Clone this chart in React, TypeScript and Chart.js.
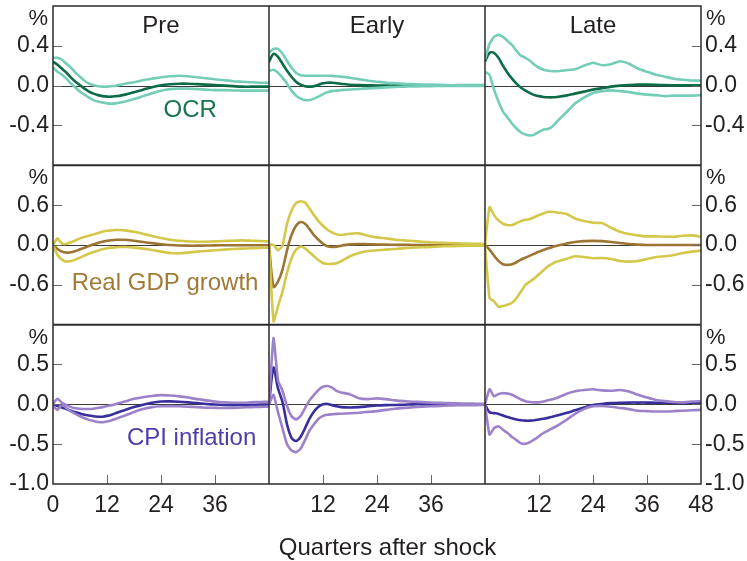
import React, { useEffect, useRef } from 'react';
import { Chart, registerables } from 'chart.js';

Chart.register(...registerables);

// Quarters after shock at which values were read
const QUARTERS = [0, 1, 2, 3, 4, 5, 6, 7, 8, 9, 10, 11, 12, 13, 14, 15, 16, 18, 20, 22, 24, 26, 28, 30, 32, 34, 36, 38, 40, 42, 44, 46, 48];

const PERIODS = ['Pre', 'Early', 'Late'];
const VARIABLES = ['OCR', 'Real GDP growth', 'CPI inflation'];
const X_TICKS = [0, 12, 24, 36, 48];
const Y_LIMITS = [0.8, 1.2, 1.0];
const Y_STEPS = [0.4, 0.6, 0.5];

// OCR
const ocrPreMean = [0.24, 0.21, 0.17, 0.13, 0.08, 0.04, 0.005, -0.03, -0.06, -0.08, -0.095, -0.105, -0.11, -0.11, -0.105, -0.1, -0.09, -0.065, -0.04, -0.015, 0.005, 0.015, 0.02, 0.02, 0.015, 0.01, 0.005, 0, -0.005, -0.01, -0.01, -0.01, -0.01];
const ocrPreUpper = [0.28, 0.28, 0.26, 0.22, 0.18, 0.13, 0.09, 0.05, 0.02, 0.005, -0.005, -0.01, -0.01, -0.005, 0, 0.01, 0.02, 0.035, 0.055, 0.07, 0.085, 0.095, 0.1, 0.095, 0.085, 0.075, 0.065, 0.055, 0.045, 0.04, 0.035, 0.03, 0.03];
const ocrPreLower = [0.18, 0.14, 0.11, 0.07, 0.02, -0.02, -0.06, -0.09, -0.12, -0.145, -0.16, -0.17, -0.178, -0.18, -0.178, -0.17, -0.16, -0.135, -0.105, -0.075, -0.05, -0.035, -0.03, -0.03, -0.035, -0.04, -0.045, -0.045, -0.048, -0.05, -0.05, -0.05, -0.05];
const ocrEarlyMean = [0.24, 0.32, 0.29, 0.22, 0.15, 0.09, 0.04, 0.01, -0.005, -0.01, -0.005, 0.01, 0.025, 0.03, 0.03, 0.025, 0.02, 0.01, 0.005, 0.003, 0.002, 0.001, 0, 0, 0, 0, 0, 0, 0, 0, 0, 0, 0];
const ocrEarlyUpper = [0.33, 0.37, 0.37, 0.32, 0.25, 0.18, 0.13, 0.105, 0.1, 0.1, 0.1, 0.1, 0.1, 0.1, 0.098, 0.095, 0.09, 0.08, 0.065, 0.05, 0.04, 0.03, 0.025, 0.02, 0.015, 0.012, 0.01, 0.008, 0.005, 0.005, 0.005, 0.005, 0.005];
const ocrEarlyLower = [0.15, 0.16, 0.13, 0.08, 0.02, -0.05, -0.1, -0.13, -0.145, -0.145, -0.13, -0.11, -0.085, -0.065, -0.055, -0.05, -0.045, -0.038, -0.033, -0.027, -0.022, -0.017, -0.013, -0.01, -0.008, -0.006, -0.005, -0.003, -0.003, -0.003, -0.003, -0.003, -0.003];
const ocrLateMean = [0.24, 0.33, 0.33, 0.28, 0.2, 0.13, 0.07, 0.02, -0.02, -0.05, -0.075, -0.095, -0.105, -0.113, -0.117, -0.117, -0.113, -0.1, -0.08, -0.06, -0.04, -0.025, -0.01, 0, 0.007, 0.01, 0.01, 0.008, 0.005, 0.003, 0.003, 0.003, 0.003];
const ocrLateUpper = [0.26, 0.42, 0.49, 0.51, 0.49, 0.45, 0.41, 0.35, 0.3, 0.28, 0.25, 0.21, 0.18, 0.16, 0.15, 0.145, 0.145, 0.155, 0.165, 0.2, 0.23, 0.205, 0.215, 0.245, 0.22, 0.17, 0.14, 0.11, 0.09, 0.07, 0.06, 0.052, 0.05];
const ocrLateLower = [0.14, 0.11, -0.04, -0.16, -0.26, -0.32, -0.38, -0.43, -0.47, -0.49, -0.5, -0.49, -0.465, -0.44, -0.435, -0.41, -0.36, -0.27, -0.18, -0.12, -0.073, -0.055, -0.047, -0.055, -0.065, -0.08, -0.09, -0.095, -0.105, -0.1, -0.1, -0.1, -0.095];

// Real GDP growth
const gdpPreMean = [0, -0.06, -0.1, -0.115, -0.11, -0.09, -0.065, -0.04, -0.015, 0.01, 0.03, 0.05, 0.063, 0.072, 0.078, 0.08, 0.078, 0.065, 0.045, 0.028, 0.012, 0, -0.008, -0.01, -0.01, -0.008, -0.005, -0.003, -0.003, -0.003, -0.003, -0.003, -0.003];
const gdpPreUpper = [0, 0.1, 0.02, 0.02, 0.04, 0.07, 0.1, 0.12, 0.14, 0.16, 0.18, 0.2, 0.215, 0.22, 0.225, 0.225, 0.22, 0.2, 0.17, 0.135, 0.105, 0.08, 0.065, 0.055, 0.05, 0.05, 0.055, 0.06, 0.065, 0.07, 0.065, 0.06, 0.055];
const gdpPreLower = [-0.01, -0.15, -0.22, -0.25, -0.24, -0.22, -0.19, -0.16, -0.13, -0.105, -0.085, -0.065, -0.05, -0.04, -0.035, -0.03, -0.03, -0.04, -0.055, -0.075, -0.1, -0.12, -0.125, -0.115, -0.1, -0.09, -0.08, -0.07, -0.06, -0.055, -0.05, -0.045, -0.04];
const gdpEarlyMean = [0, -0.63, -0.55, -0.37, -0.08, 0.15, 0.29, 0.345, 0.32, 0.24, 0.15, 0.08, 0.02, -0.02, -0.03, -0.025, -0.01, 0.01, 0.015, 0.012, 0.008, 0.005, 0.003, 0.002, 0.001, 0, 0, 0, 0, 0, 0, 0, 0];
const gdpEarlyUpper = [0.01, 0, -0.08, -0.01, 0.32, 0.52, 0.63, 0.66, 0.64, 0.55, 0.45, 0.36, 0.29, 0.23, 0.19, 0.16, 0.15, 0.17, 0.175, 0.14, 0.115, 0.1, 0.08, 0.07, 0.06, 0.05, 0.04, 0.035, 0.03, 0.025, 0.02, 0.018, 0.015];
const gdpEarlyLower = [0, -1.15, -0.92, -0.7, -0.42, -0.2, -0.07, -0.025, -0.05, -0.11, -0.17, -0.23, -0.27, -0.285, -0.285, -0.275, -0.245, -0.17, -0.12, -0.09, -0.08, -0.07, -0.06, -0.05, -0.04, -0.035, -0.03, -0.022, -0.018, -0.015, -0.012, -0.01, -0.008];
const gdpLateMean = [0, -0.07, -0.16, -0.24, -0.29, -0.3, -0.29, -0.26, -0.22, -0.19, -0.16, -0.13, -0.1, -0.075, -0.05, -0.03, -0.01, 0.02, 0.045, 0.058, 0.062, 0.058, 0.045, 0.03, 0.015, 0.005, 0, 0, 0, 0, 0, 0, 0];
const gdpLateUpper = [0, 0.57, 0.45, 0.37, 0.32, 0.3, 0.3, 0.33, 0.36, 0.38, 0.39, 0.42, 0.45, 0.475, 0.5, 0.5, 0.49, 0.47, 0.4, 0.36, 0.335, 0.33, 0.26, 0.2, 0.165, 0.145, 0.13, 0.13, 0.125, 0.125, 0.14, 0.145, 0.125];
const gdpLateLower = [0, -0.8, -0.85, -0.93, -0.92, -0.9, -0.87, -0.8, -0.7, -0.6, -0.55, -0.5, -0.44, -0.38, -0.32, -0.28, -0.25, -0.21, -0.17, -0.18, -0.2, -0.195, -0.21, -0.24, -0.25, -0.24, -0.21, -0.18, -0.17, -0.15, -0.12, -0.1, -0.085];

// CPI inflation
const cpiPreMean = [0, -0.02, -0.04, -0.06, -0.08, -0.1, -0.115, -0.13, -0.14, -0.15, -0.155, -0.155, -0.145, -0.13, -0.11, -0.09, -0.07, -0.035, -0.005, 0.02, 0.035, 0.037, 0.033, 0.025, 0.015, 0.005, -0.003, -0.008, -0.01, -0.008, -0.006, -0.004, -0.003];
const cpiPreUpper = [0.01, 0.07, 0.02, -0.01, -0.035, -0.05, -0.055, -0.058, -0.058, -0.055, -0.045, -0.035, -0.022, -0.01, 0.005, 0.02, 0.035, 0.07, 0.09, 0.105, 0.115, 0.11, 0.1, 0.085, 0.065, 0.05, 0.035, 0.025, 0.02, 0.02, 0.025, 0.03, 0.033];
const cpiPreLower = [-0.02, -0.07, 0, -0.05, -0.09, -0.12, -0.15, -0.175, -0.195, -0.21, -0.222, -0.225, -0.215, -0.2, -0.18, -0.16, -0.14, -0.095, -0.06, -0.035, -0.025, -0.022, -0.025, -0.03, -0.035, -0.042, -0.045, -0.046, -0.045, -0.04, -0.035, -0.032, -0.03];
const cpiEarlyMean = [0, 0.46, 0.2, 0.03, -0.25, -0.42, -0.46, -0.41, -0.3, -0.18, -0.09, -0.03, 0, 0.005, -0.01, -0.025, -0.035, -0.04, -0.035, -0.025, -0.015, -0.01, -0.008, -0.005, 0, 0, 0, 0, 0, 0, 0, 0, 0];
const cpiEarlyUpper = [0.01, 0.83, 0.3, 0.17, -0.02, -0.15, -0.19, -0.15, -0.05, 0.05, 0.12, 0.18, 0.22, 0.23, 0.21, 0.17, 0.15, 0.125, 0.075, 0.065, 0.075, 0.065, 0.05, 0.04, 0.033, 0.028, 0.022, 0.018, 0.015, 0.012, 0.01, 0.008, 0.008];
const cpiEarlyLower = [0, 0.12, -0.1, -0.3, -0.5, -0.58, -0.6, -0.56, -0.45, -0.33, -0.25, -0.18, -0.145, -0.13, -0.125, -0.12, -0.118, -0.112, -0.105, -0.095, -0.085, -0.07, -0.055, -0.045, -0.037, -0.03, -0.025, -0.02, -0.015, -0.012, -0.01, -0.01, -0.008];
const cpiLateMean = [0, -0.1, -0.11, -0.12, -0.14, -0.16, -0.175, -0.19, -0.2, -0.205, -0.205, -0.2, -0.19, -0.18, -0.17, -0.155, -0.14, -0.11, -0.075, -0.04, -0.01, 0.005, 0.015, 0.02, 0.022, 0.022, 0.022, 0.02, 0.02, 0.018, 0.017, 0.017, 0.017];
const cpiLateUpper = [0, 0.19, 0.1, 0.13, 0.14, 0.135, 0.12, 0.09, 0.06, 0.04, 0.03, 0.025, 0.025, 0.035, 0.05, 0.065, 0.08, 0.13, 0.165, 0.18, 0.19, 0.175, 0.17, 0.18, 0.16, 0.12, 0.085, 0.055, 0.04, 0.03, 0.025, 0.035, 0.04];
const cpiLateLower = [0, -0.38, -0.3, -0.275, -0.32, -0.36, -0.41, -0.45, -0.49, -0.495, -0.475, -0.44, -0.4, -0.36, -0.33, -0.3, -0.27, -0.2, -0.12, -0.06, -0.025, -0.02, -0.03, -0.045, -0.06, -0.08, -0.085, -0.09, -0.09, -0.085, -0.08, -0.075, -0.07];

const SERIES = [
  [
    [ocrPreMean, ocrPreUpper, ocrPreLower],
    [ocrEarlyMean, ocrEarlyUpper, ocrEarlyLower],
    [ocrLateMean, ocrLateUpper, ocrLateLower],
  ],
  [
    [gdpPreMean, gdpPreUpper, gdpPreLower],
    [gdpEarlyMean, gdpEarlyUpper, gdpEarlyLower],
    [gdpLateMean, gdpLateUpper, gdpLateLower],
  ],
  [
    [cpiPreMean, cpiPreUpper, cpiPreLower],
    [cpiEarlyMean, cpiEarlyUpper, cpiEarlyLower],
    [cpiLateMean, cpiLateUpper, cpiLateLower],
  ],
];

const MEAN_COLORS = ['#0e6b47', '#9c7533', '#382e9c'];
const BAND_COLORS = ['#74cdb7', '#d4c84a', '#9c82c9'];
const LABEL_COLORS = ['#16734b', '#a07a36', '#4a3eaa'];
// label anchor (quarter, value) in the Pre column of each row
const LABEL_POS = [
  [30.5, -0.25],
  [24.9, -0.58],
  [30.8, -0.43],
];

const FONT = '"Liberation Sans", Arial, Helvetica, sans-serif';
const TEXT = '#231f20';
const FRAME = '#2b2b2b';

const fmtY = (v: number) => (Math.abs(v) < 1e-9 ? '0.0' : v.toFixed(1));
const showY = (row: number, v: number) => {
  const lim = Y_LIMITS[row];
  if (v > lim - 1e-6) return false;
  if (row < 2 && v < -lim + 1e-6) return false;
  return true;
};
const showX = (col: number, v: number) => {
  if (col > 0 && v === 0) return false;
  if (col < 2 && v === 48) return false;
  return true;
};

const decorPlugin = {
  id: 'panelDecor',
  beforeDatasetsDraw(chart: any) {
    const { ctx, chartArea } = chart;
    ctx.save();
    ctx.strokeStyle = '#3a3a3a';
    ctx.lineWidth = 1;
    for (let r = 0; r < 3; r++) {
      const ys = chart.scales['yL' + r];
      const y = Math.round(ys.getPixelForValue(0)) + 0.5;
      ctx.beginPath();
      ctx.moveTo(chartArea.left, y);
      ctx.lineTo(chartArea.right, y);
      ctx.stroke();
    }
    ctx.restore();
  },
  afterDatasetsDraw(chart: any) {
    const { ctx, chartArea } = chart;
    const { left, right, top, bottom } = chartArea;
    ctx.save();
    // tick marks (inward)
    ctx.strokeStyle = '#666';
    ctx.lineWidth = 1;
    for (let r = 0; r < 3; r++) {
      const ys = chart.scales['yL' + r];
      const lim = Y_LIMITS[r];
      for (let v = -lim + Y_STEPS[r]; v < lim - 1e-6; v += Y_STEPS[r]) {
        const y = Math.round(ys.getPixelForValue(v)) + 0.5;
        ctx.beginPath();
        ctx.moveTo(left, y);
        ctx.lineTo(left + 9, y);
        ctx.moveTo(right - 9, y);
        ctx.lineTo(right, y);
        ctx.stroke();
      }
    }
    for (let c = 0; c < 3; c++) {
      const xs = chart.scales['x' + c];
      X_TICKS.slice(1, -1).forEach((q) => {
        const x = Math.round(xs.getPixelForValue(q)) + 0.5;
        ctx.beginPath();
        ctx.moveTo(x, bottom - 9);
        ctx.lineTo(x, bottom);
        ctx.stroke();
      });
    }
    // frame and separators
    ctx.strokeStyle = FRAME;
    ctx.lineWidth = 1.5;
    ctx.strokeRect(left, top, right - left, bottom - top);
    ctx.beginPath();
    for (let c = 1; c < 3; c++) {
      const x = chart.scales['x' + c].left;
      ctx.moveTo(x, top);
      ctx.lineTo(x, bottom);
    }
    ctx.stroke();
    ctx.lineWidth = 2;
    ctx.beginPath();
    for (let r = 1; r < 3; r++) {
      const y = chart.scales['yL' + r].top;
      ctx.moveTo(left, y);
      ctx.lineTo(right, y);
    }
    ctx.stroke();

    // texts
    ctx.fillStyle = TEXT;
    ctx.font = `24px ${FONT}`;
    ctx.textAlign = 'center';
    ctx.textBaseline = 'middle';
    for (let c = 0; c < 3; c++) {
      const xs = chart.scales['x' + c];
      ctx.fillText(PERIODS[c], (xs.left + xs.right) / 2, top + 20);
    }
    ctx.font = `22px ${FONT}`;
    for (let r = 0; r < 3; r++) {
      const ys = chart.scales['yL' + r];
      const y = ys.top + 13;
      ctx.textAlign = 'right';
      ctx.fillText('%', left - 5, y);
      ctx.textAlign = 'left';
      ctx.fillText('%', right + 5, y);
    }
    ctx.font = `24px ${FONT}`;
    ctx.textAlign = 'center';
    for (let r = 0; r < 3; r++) {
      const xs = chart.scales.x0;
      const ys = chart.scales['yL' + r];
      ctx.fillStyle = LABEL_COLORS[r];
      ctx.fillText(VARIABLES[r], xs.getPixelForValue(LABEL_POS[r][0]), ys.getPixelForValue(LABEL_POS[r][1]));
    }
    ctx.fillStyle = TEXT;
    ctx.font = `24px ${FONT}`;
    ctx.fillText('Quarters after shock', 387.5, 548);
    ctx.restore();
  },
};

function buildDatasets() {
  const ds: any[] = [];
  for (let r = 0; r < 3; r++) {
    for (let c = 0; c < 3; c++) {
      const [mean, upper, lower] = SERIES[r][c];
      const mk = (arr: number[], color: string, label: string, tension: number) => ({
        label: `${VARIABLES[r]} ${PERIODS[c]} ${label}`,
        data: QUARTERS.map((q, i) => ({ x: q, y: arr[i] })),
        xAxisID: 'x' + c,
        yAxisID: 'yL' + r,
        borderColor: color,
        borderWidth: 2.6,
        pointRadius: 0,
        tension,
        fill: false,
      });
      ds.push(mk(upper, BAND_COLORS[r], 'upper', 0.15));
      ds.push(mk(lower, BAND_COLORS[r], 'lower', 0.15));
      ds.push(mk(mean, MEAN_COLORS[r], 'mean', 0.3));
    }
  }
  return ds;
}

function buildScales() {
  const scales: any = {};
  const tickFont = { size: 23, family: FONT };
  for (let c = 0; c < 3; c++) {
    scales['x' + c] = {
      type: 'linear',
      position: 'bottom',
      stack: 'xs',
      stackWeight: 1,
      weight: c + 1,
      min: X_TICKS[0],
      max: X_TICKS[X_TICKS.length - 1],
      grid: { display: false, drawTicks: false },
      border: { display: false },
      ticks: {
        stepSize: 12,
        autoSkip: false,
        maxRotation: 0,
        minRotation: 0,
        padding: 8,
        color: TEXT,
        font: tickFont,
        callback: (v: number) => (showX(c, v) ? String(v) : ''),
      },
      afterFit: (s: any) => {
        s.height = 77;
        s.paddingLeft = 0;
        s.paddingRight = 0;
      },
    };
  }
  for (let r = 0; r < 3; r++) {
    for (const side of ['left', 'right']) {
      const id = (side === 'left' ? 'yL' : 'yR') + r;
      scales[id] = {
        type: 'linear',
        position: side,
        stack: side === 'left' ? 'ysl' : 'ysr',
        stackWeight: 1,
        weight: side === 'left' ? 3 - r : r + 1,
        min: -Y_LIMITS[r],
        max: Y_LIMITS[r],
        grid: { display: false, drawTicks: false },
        border: { display: false },
        ticks: {
          stepSize: Y_STEPS[r],
          autoSkip: false,
          padding: side === 'left' ? 4 : 4,
          color: TEXT,
          font: tickFont,
          callback: (v: number) => (showY(r, v) ? fmtY(v) : ''),
        },
        afterFit: (s: any) => {
          s.width = side === 'left' ? 53 : 46;
          s.paddingTop = 0;
          s.paddingBottom = 0;
        },
      };
    }
  }
  return scales;
}

export default function App() {
  const ref = useRef<HTMLCanvasElement>(null);
  useEffect(() => {
    const chart = new Chart(ref.current as HTMLCanvasElement, {
      type: 'line',
      data: { datasets: buildDatasets() },
      options: {
        responsive: false,
        devicePixelRatio: 1,
        animation: false,
        parsing: true,
        layout: { padding: { left: 0, right: 0, top: 6, bottom: 0 } },
        plugins: { legend: { display: false }, tooltip: { enabled: false } },
        scales: buildScales(),
      } as any,
      plugins: [decorPlugin],
    });
    return () => chart.destroy();
  }, []);
  return (
    <div style={{ position: 'fixed', left: 0, top: 0, width: 747, height: 561, background: '#fff' }}>
      <canvas ref={ref} width={747} height={561} style={{ display: 'block', width: 747, height: 561 }} />
    </div>
  );
}
